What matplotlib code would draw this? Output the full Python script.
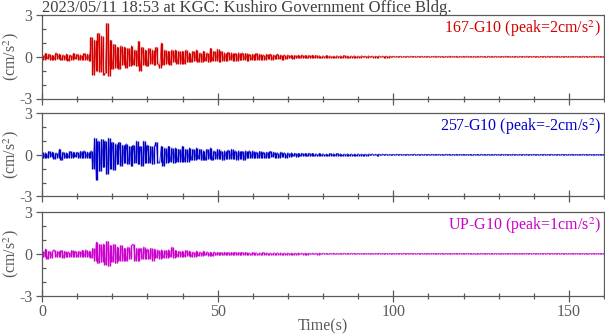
import numpy as np
import matplotlib
matplotlib.use("Agg")
import matplotlib.pyplot as plt
from matplotlib.ticker import MultipleLocator

plt.rcParams['font.family'] = ['Liberation Serif', 'DejaVu Serif']
plt.rcParams['mathtext.fontset'] = 'stix'
plt.rcParams['axes.unicode_minus'] = False

title = "2023/05/11 18:53 at KGC: Kushiro Government Office Bldg."
labels = ["167-G10 (peak=2cm/s$^2$)", "257-G10 (peak=-2cm/s$^2$)", "UP-G10 (peak=1cm/s$^2$)"]
colors = ["#d40000", "#0000c8", "#cc00cc"]
dt = 0.5  # sample spacing in seconds of the values read below

ns_167 = [
    0.15,-0.2,0.25,-0.15,0.2,-0.25,0.1,-0.2,0.3,-0.15,0.2,-0.25,0.15,-0.2,0.2,-0.3,0.15,-0.2,0.25,-0.15,
    0.2,-0.25,0.15,-0.2,0.25,-0.2,0.2,-0.3,1.4,-1.3,1.2,-1.0,1.7,-1.1,1.5,-1.3,-1.2,2.4,-1.4,1.2,
    -0.9,0.9,-0.8,0.7,-0.9,0.8,-0.6,0.7,-0.8,0.6,-0.7,0.8,-0.6,0.5,-0.7,1.1,-1.0,0.7,-0.6,0.5,
    -0.7,0.6,-0.5,0.5,-0.6,0.7,-0.5,-0.8,1.0,-0.6,0.5,-0.5,0.4,-0.6,0.5,-0.4,0.5,-0.5,0.4,-0.5,
    0.4,-0.5,0.5,-0.4,0.3,-0.4,0.4,-0.3,0.5,-0.4,0.3,-0.4,0.4,-0.3,0.3,-0.4,0.6,-0.3,0.4,-0.3,
    0.55,-0.35,0.4,-0.3,0.3,-0.3,0.35,-0.25,0.3,-0.3,0.25,-0.3,0.3,-0.25,0.3,-0.2,0.25,-0.3,0.2,-0.25,
    0.2,-0.25,0.25,-0.2,0.2,-0.2,0.15,-0.2,0.2,-0.15,0.2,-0.2,0.15,-0.15,0.2,-0.15,0.15,-0.2,0.15,-0.15,
    0.15,-0.12,0.12,-0.15,0.1,-0.12,0.12,-0.1,0.15,-0.1,0.1,-0.12,0.1,-0.1,0.12,-0.08,0.1,-0.1,0.08,-0.1,
    0.08,-0.07,0.09,-0.06,0.07,-0.08,0.06,-0.07,0.08,-0.06,0.07,-0.07,0.09,-0.06,0.06,-0.08,0.07,-0.06,0.08,-0.07,
    0.06,-0.07,0.08,-0.05,0.06,-0.06,0.07,-0.05,0.06,-0.07,0.05,-0.06,0.07,-0.05,0.06,-0.06,0.05,-0.07,0.06,-0.05,
    0.05,-0.04,0.04,-0.05,0.05,-0.04,0.03,-0.05,0.04,-0.04,0.05,-0.03,0.04,-0.05,0.04,-0.04,0.05,-0.04,0.03,-0.04,
    0.04,-0.05,0.04,-0.03,0.05,-0.04,0.04,-0.04,0.03,-0.05,0.04,-0.04,0.05,-0.03,0.04,-0.04,0.04,-0.05,0.03,-0.04,
    0.04,-0.03,0.05,-0.04,0.03,-0.04,0.04,-0.05,0.04,-0.03,0.04,-0.04,0.03,-0.05,0.05,-0.04,0.04,-0.03,0.04,-0.04,
    0.03,-0.04,0.04,-0.04,0.05,-0.03,0.04,-0.04,0.03,-0.04,0.04,-0.05,0.04,-0.03,0.03,-0.04,0.05,-0.04,0.04,-0.03,
    0.04,-0.04,0.03,-0.05,0.04,-0.03,0.04,-0.04,0.05,-0.04,0.03,-0.03,0.04,-0.04,0.04,-0.05,0.03,-0.04,0.04,-0.03,
    0.03,-0.04,0.04,-0.03,0.04,-0.04,0.03,-0.04,0.05,-0.03,0.04,-0.04,0.03,-0.04,0.04,-0.03,0.04,-0.04,0.03,-0.04,
    0.03,
]

ew_257 = [
    0.2,-0.25,0.15,-0.2,0.25,-0.15,0.2,-0.3,0.15,-0.2,0.4,-0.4,0.2,-0.25,0.15,-0.2,0.25,-0.2,0.2,-0.15,
    0.2,-0.25,0.25,-0.2,0.3,-0.2,0.2,-0.25,0.3,-1.0,1.2,-1.8,1.0,-1.2,1.1,-0.9,1.0,-1.4,1.2,-1.0,
    0.9,-1.1,0.8,-0.7,0.9,-0.8,0.7,-0.6,0.8,-0.7,0.6,-0.8,0.7,-0.6,1.0,-0.7,0.6,-0.8,1.0,-0.6,
    0.7,-0.6,0.6,-0.7,0.6,0.9,-0.6,-0.5,0.6,-0.8,0.5,-0.6,0.6,-0.5,0.5,-0.6,0.5,-0.5,0.4,-0.5,
    0.6,-0.5,0.4,-0.5,0.5,-0.4,0.4,-0.4,0.5,-0.3,0.4,-0.4,0.3,-0.4,0.4,-0.3,0.5,-0.4,0.3,-0.3,
    0.4,-0.3,0.3,-0.4,0.3,-0.3,0.35,-0.3,0.4,-0.3,0.3,-0.35,0.3,-0.3,0.25,-0.4,0.3,-0.25,0.3,-0.25,
    0.3,-0.25,0.2,-0.25,0.25,-0.2,0.2,-0.25,0.2,-0.2,0.25,-0.15,0.2,-0.2,0.15,-0.2,0.2,-0.15,0.15,-0.2,
    0.15,-0.15,0.15,-0.12,0.12,-0.15,0.1,-0.12,0.12,-0.1,0.1,-0.12,0.12,-0.1,0.1,-0.1,0.08,-0.1,0.1,-0.08,
    0.08,-0.09,0.07,-0.08,0.09,-0.07,0.08,-0.06,0.1,-0.08,0.07,-0.08,0.06,-0.07,0.08,-0.06,0.07,-0.07,0.06,-0.08,
    0.07,-0.06,0.06,-0.07,0.05,-0.06,0.06,-0.05,0.07,-0.05,0.05,-0.06,0.05,-0.05,0.06,-0.04,0.05,-0.05,0.04,-0.05,
    0.04,-0.04,0.05,-0.03,0.04,-0.04,0.03,-0.05,0.04,-0.04,0.04,-0.03,0.05,-0.04,0.03,-0.04,0.04,-0.04,0.04,-0.03,
    0.03,-0.04,0.04,-0.04,0.04,-0.03,0.04,-0.04,0.03,-0.04,0.05,-0.03,0.04,-0.04,0.03,-0.04,0.04,-0.03,0.04,-0.04,
    0.04,-0.03,0.03,-0.04,0.04,-0.04,0.03,-0.03,0.04,-0.04,0.04,-0.03,0.03,-0.04,0.04,-0.04,0.03,-0.03,0.04,-0.04,
    0.03,-0.04,0.04,-0.03,0.04,-0.04,0.03,-0.04,0.04,-0.03,0.03,-0.04,0.04,-0.04,0.03,-0.03,0.04,-0.04,0.03,-0.03,
    0.04,-0.03,0.03,-0.04,0.03,-0.03,0.04,-0.04,0.03,-0.03,0.04,-0.03,0.03,-0.04,0.03,-0.03,0.04,-0.03,0.03,-0.04,
    0.03,-0.03,0.04,-0.03,0.03,-0.04,0.03,-0.03,0.04,-0.03,0.03,-0.03,0.04,-0.04,0.03,-0.03,0.03,-0.04,0.03,-0.03,
    0.03,
]

ud_up = [
    0.2,-0.25,0.35,-0.4,0.2,-0.3,0.2,0.3,-0.25,0.2,-0.2,0.25,-0.3,0.2,-0.25,0.15,-0.2,0.25,-0.2,0.2,
    -0.25,0.2,-0.2,0.25,-0.2,0.3,-0.25,0.2,-0.3,0.4,-0.5,0.85,-0.7,0.7,-0.6,0.7,-0.8,0.9,-0.9,0.6,
    -0.6,0.7,-0.7,0.5,-0.5,0.6,-0.5,0.4,-0.5,0.5,-0.4,0.6,0.7,-0.5,0.4,-0.5,0.4,-0.4,0.5,-0.35,
    0.35,-0.4,0.4,-0.5,0.35,-0.3,0.3,-0.35,0.3,-0.3,0.25,-0.3,0.3,-0.25,0.5,-0.3,0.25,-0.2,0.2,-0.2,
    0.2,-0.2,0.25,-0.15,0.2,-0.2,0.15,-0.2,0.2,-0.15,0.15,-0.15,0.2,-0.12,0.15,-0.15,0.12,-0.15,0.15,-0.12,
    0.12,-0.12,0.1,-0.12,0.12,-0.1,0.1,-0.12,0.1,-0.1,0.12,-0.1,0.1,-0.1,0.1,-0.08,0.1,-0.1,0.08,-0.1,
    0.1,-0.08,0.08,-0.1,0.08,-0.08,0.1,-0.07,0.08,-0.08,0.07,-0.08,0.08,-0.07,0.08,-0.06,0.07,-0.08,0.06,-0.07,
    0.07,-0.06,0.06,-0.07,0.06,-0.06,0.07,-0.05,0.06,-0.06,0.05,-0.06,0.06,-0.05,0.06,-0.05,0.05,-0.06,0.05,-0.05,
    0.05,-0.04,0.04,-0.05,0.04,-0.04,0.05,-0.04,0.04,-0.05,0.04,-0.04,0.05,-0.04,0.04,-0.04,0.05,-0.03,0.04,-0.04,
    0.04,-0.04,0.03,-0.04,0.04,-0.03,0.04,-0.04,0.03,-0.04,0.04,-0.03,0.04,-0.04,0.03,-0.04,0.04,-0.03,0.03,-0.04,
    0.03,-0.04,0.04,-0.03,0.03,-0.03,0.04,-0.04,0.03,-0.03,0.04,-0.03,0.03,-0.04,0.03,-0.03,0.04,-0.03,0.03,-0.03,
    0.04,-0.03,0.03,-0.03,0.03,-0.04,0.03,-0.03,0.04,-0.03,0.03,-0.03,0.03,-0.04,0.03,-0.03,0.04,-0.03,0.03,-0.03,
    0.03,-0.03,0.04,-0.03,0.03,-0.03,0.03,-0.04,0.03,-0.03,0.04,-0.03,0.03,-0.03,0.03,-0.04,0.03,-0.03,0.03,-0.03,
    0.03,-0.04,0.03,-0.03,0.03,-0.03,0.04,-0.03,0.03,-0.03,0.03,-0.04,0.03,-0.03,0.03,-0.03,0.04,-0.03,0.03,-0.03,
    0.03,-0.03,0.03,-0.04,0.03,-0.03,0.03,-0.03,0.04,-0.03,0.03,-0.03,0.03,-0.03,0.04,-0.03,0.03,-0.03,0.03,-0.04,
    0.03,-0.03,0.04,-0.03,0.03,-0.03,0.03,-0.03,0.03,-0.04,0.03,-0.03,0.03,-0.03,0.04,-0.03,0.03,-0.03,0.03,-0.03,
    0.03,
]

traces = [ns_167, ew_257, ud_up]

gray = "#5a5a5a"
W, H = 605, 334
fig = plt.figure(figsize=(W / 100, H / 100), dpi=100)

tops = [15, 113, 212]
ph = 83.5
left, right = 42, 604

axes = []
for i, (vals, lab, col, top) in enumerate(zip(traces, labels, colors, tops)):
    ax = fig.add_axes([left / W, 1 - (top + ph) / H, (right - left) / W, ph / H])
    v = np.asarray(vals)
    t = np.arange(len(v)) * dt
    # each swing between consecutive samples drawn as a vertical stroke (dense trace look)
    ax.vlines(t[:-1] + dt / 2, v[:-1], v[1:], color=col, lw=1.0)
    ax.plot(t, v, color=col, lw=0.6, alpha=0.8)
    ax.set_xlim(0, 160)
    ax.set_ylim(-3, 3)
    ax.set_yticks([-3, 0, 3])
    ax.yaxis.set_minor_locator(MultipleLocator(1))
    ax.xaxis.set_major_locator(MultipleLocator(50))
    ax.xaxis.set_minor_locator(MultipleLocator(10))
    for s in ax.spines.values():
        s.set_color(gray)
        s.set_linewidth(0.9)
    ax.tick_params(axis='x', which='major', direction='inout', length=8, width=0.9, color=gray,
                   labelcolor=gray, labelsize=11.5, pad=2)
    ax.tick_params(axis='x', which='minor', direction='inout', length=5, width=0.9, color=gray)
    ax.tick_params(axis='y', which='major', direction='out', length=4, width=0.9, color=gray,
                   labelcolor=gray, labelsize=11.5, pad=3)
    ax.tick_params(axis='y', which='minor', direction='in', length=3, width=0.9, color=gray)
    if i < 2:
        ax.tick_params(axis='x', which='both', labelbottom=False)
    ycen = 1 - (top + ph / 2) / H
    fig.text(11 / W, ycen, "(cm/s$^2$)", rotation=90, ha='center', va='center',
             color=gray, fontsize=11.5)
    ax.text(0.995, 0.96, lab, transform=ax.transAxes, ha='right', va='top', color=col, fontsize=11.5)
    axes.append(ax)

axes[-1].set_xlabel("Time(s)", color=gray, fontsize=11.5, labelpad=-1)
fig.text(left / W, 1.0, title, ha='left', va='top', color="#404040", fontsize=12)

fig.savefig("out.png", dpi=100)
